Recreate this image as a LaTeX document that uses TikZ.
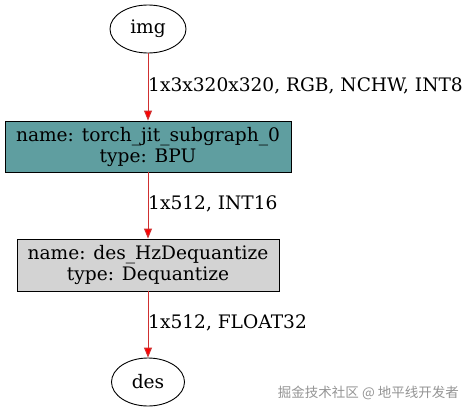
\documentclass[tikz,border=0pt]{standalone}
\usepackage{fontspec}
\setmainfont{DejaVu Serif}
\newfontfamily\cjk{Noto Sans CJK SC}
\usetikzlibrary{arrows.meta}
\definecolor{teal1}{HTML}{5F9EA0}
\definecolor{gray1}{HTML}{D3D3D3}
\definecolor{edgered}{HTML}{D03030}
\tikzset{
  base/.style={font=\fontsize{18.6}{21}\selectfont, inner sep=0pt},
  term/.style={base, draw, ellipse, minimum width=76pt, minimum height=48pt, line width=0.9pt},
  opbox/.style={base, draw, rectangle, align=center, line width=0.9pt},
  elabel/.style={base, anchor=west},
  flow/.style={draw=edgered, line width=1pt, -{Triangle[length=10pt,width=8pt,fill=red]}},
}
\usetikzlibrary{shapes.geometric}
\begin{document}
\begin{tikzpicture}[x=1pt,y=-1pt]
\useasboundingbox (0,0) rectangle (471,412);
\node[term] (img) at (148,29) {img};
\node[opbox, fill=teal1, minimum width=286pt, minimum height=51pt] (bpu) at (148,146.5) {name: torch\_jit\_subgraph\_0\\type: BPU};
\node[opbox, fill=gray1, minimum width=262pt, minimum height=52pt] (deq) at (148,265) {name: des\_HzDequantize\\type: Dequantize};
\node[term, minimum width=73pt] (des) at (148,382) {des};
\draw[flow] (img) -- (bpu);
\draw[flow] (bpu) -- (deq);
\draw[flow] (deq) -- (des);
\node[elabel] (l1) at (148,86) {1x3x320x320, RGB, NCHW, INT8};
\node[elabel] (l2) at (148,204) {1x512, INT16};
\node[elabel] (l3) at (148,323) {1x512, FLOAT32};
\node[inner sep=0pt, anchor=east, text=black!42, font=\cjk\fontsize{13.5}{15}\selectfont] (wm) at (459,393) {掘金技术社区 @ 地平线开发者};
\end{tikzpicture}
\end{document}
